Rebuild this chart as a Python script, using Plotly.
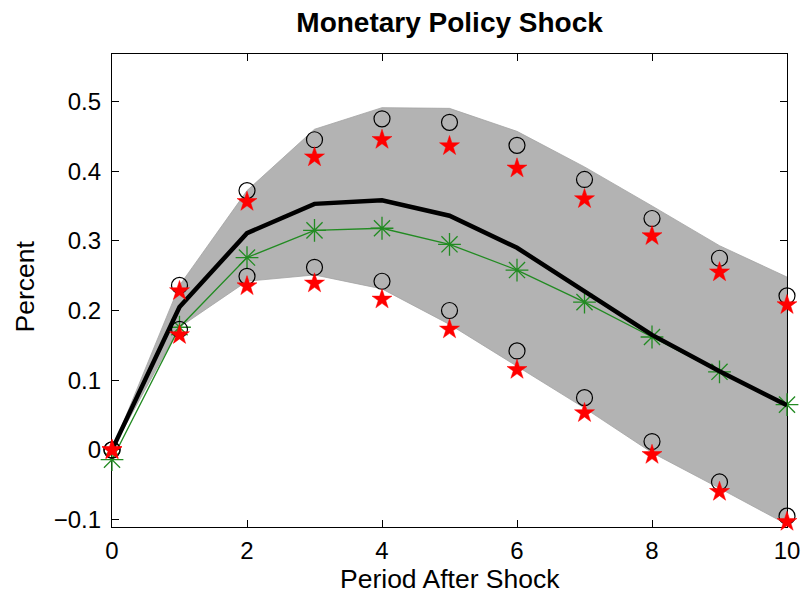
import plotly.graph_objects as go

# Impulse response to a monetary policy shock, periods 0..10
periods = [0, 1, 2, 3, 4, 5, 6, 7, 8, 9, 10]

# Posterior median response (thick black line)
median_resp = [0.0, 0.205, 0.311, 0.353, 0.358, 0.336, 0.290, 0.227, 0.165, 0.113, 0.064]
# Point estimate (green line with asterisks)
point_resp = [-0.014, 0.176, 0.276, 0.315, 0.318, 0.295, 0.258, 0.212, 0.162, 0.112, 0.065]

# Shaded credible band
band_upper = [0.0, 0.236, 0.372, 0.460, 0.491, 0.490, 0.457, 0.406, 0.350, 0.293, 0.248]
band_lower = [0.0, 0.176, 0.242, 0.251, 0.231, 0.180, 0.120, 0.060, -0.004, -0.055, -0.107]

# Alternative interval bounds (circles and stars)
circle_upper = [0.0, 0.236, 0.372, 0.445, 0.475, 0.470, 0.437, 0.388, 0.332, 0.275, 0.221]
circle_lower = [0.0, 0.173, 0.249, 0.262, 0.242, 0.200, 0.142, 0.075, 0.012, -0.046, -0.095]
star_upper = [0.0, 0.228, 0.356, 0.420, 0.445, 0.436, 0.404, 0.360, 0.307, 0.255, 0.208]
star_lower = [0.0, 0.165, 0.235, 0.239, 0.216, 0.173, 0.115, 0.053, -0.007, -0.060, -0.103]

x_ticks = [0, 2, 4, 6, 8, 10]
y_ticks = [-0.1, 0.0, 0.1, 0.2, 0.3, 0.4, 0.5]

FONT = "Arial, Liberation Sans, Helvetica, sans-serif"

fig = go.Figure()

# band polygon: upper edge left-to-right, lower edge right-to-left
fig.add_trace(go.Scatter(
    x=periods + periods[::-1],
    y=band_upper + band_lower[::-1],
    fill="toself", fillcolor="#b3b3b3",
    line=dict(color="#a3a3a3", width=0.8),
    mode="lines", hoverinfo="skip", showlegend=False,
))

fig.add_trace(go.Scatter(
    x=periods, y=point_resp, mode="lines+markers",
    line=dict(color="#228b22", width=1.3),
    marker=dict(symbol="asterisk-open", size=19, color="#228b22",
                line=dict(color="#228b22", width=1.3)),
    cliponaxis=False, showlegend=False,
))

fig.add_trace(go.Scatter(
    x=periods, y=median_resp, mode="lines",
    line=dict(color="black", width=4.5),
    cliponaxis=False, showlegend=False,
))

for ys in (circle_upper, circle_lower):
    fig.add_trace(go.Scatter(
        x=periods, y=ys, mode="markers",
        marker=dict(symbol="circle-open", size=16, color="black",
                    line=dict(color="black", width=1.2)),
        cliponaxis=False, showlegend=False,
    ))

for ys in (star_upper, star_lower):
    fig.add_trace(go.Scatter(
        x=periods, y=ys, mode="markers",
        marker=dict(symbol="star", size=15, color="red",
                    line=dict(color="red", width=0.5)),
        cliponaxis=False, showlegend=False,
    ))

axis_common = dict(
    showgrid=False, zeroline=False, automargin=False,
    showline=True, linecolor="black", linewidth=1.2,
    mirror="ticks", ticks="inside", ticklen=7, tickwidth=1, tickcolor="black",
    tickfont=dict(family=FONT, size=24, color="black"),
    layer="below traces",
)

fig.update_xaxes(range=[0, 10], tickvals=x_ticks, ticklabelstandoff=2, **axis_common)
fig.update_yaxes(range=[-0.1106, 0.568], tickvals=y_ticks, ticklabelstandoff=5, **axis_common)

fig.update_layout(
    width=805, height=595,
    margin=dict(l=112, r=18, t=54, b=68),
    plot_bgcolor="white", paper_bgcolor="white",
    title=dict(text="<b>Monetary Policy Shock</b>", x=0.5585, xanchor="center",
               y=1 - 22 / 595, yanchor="middle",
               font=dict(family=FONT, size=28, color="black")),
    annotations=[
        dict(text="Period After Shock", x=0.5, y=0, xref="paper", yref="paper",
             xanchor="center", yanchor="middle", yshift=-52, showarrow=False,
             font=dict(family=FONT, size=26.5, color="black")),
        dict(text="Percent", x=0, y=0.5, xref="paper", yref="paper",
             xanchor="center", yanchor="middle", xshift=-88, yshift=4,
             textangle=-90, showarrow=False,
             font=dict(family=FONT, size=26.5, color="black")),
    ],
)

fig.write_html("out.html")
